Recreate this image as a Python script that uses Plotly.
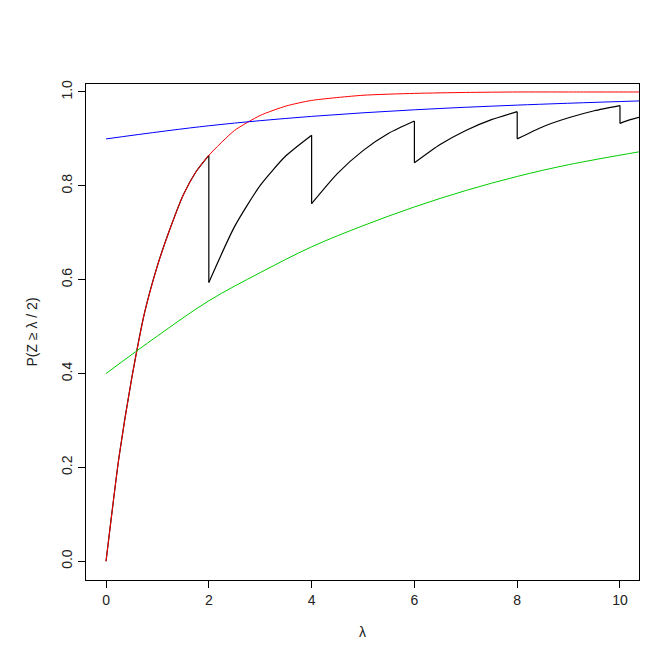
import plotly.graph_objects as go

# values
red_x = [0, 0.25, 0.5, 0.75, 1, 1.25, 1.5, 1.75, 2, 2.5, 3, 3.5, 4, 5, 6, 7, 8, 9, 10, 10.4]
red_y = [0, 0.22, 0.39, 0.53, 0.63, 0.71, 0.78, 0.83, 0.865, 0.918, 0.95, 0.97, 0.982, 0.993, 0.997, 0.999, 1.0, 1.0, 1.0, 1.0]

# black curve, one piece per interval between jumps
black_pieces = [
    ([0, 0.25, 0.5, 0.75, 1, 1.25, 1.5, 1.75, 2], [0, 0.22, 0.39, 0.53, 0.63, 0.71, 0.78, 0.83, 0.865]),
    ([2, 2.5, 3, 3.5, 4], [0.594, 0.713, 0.801, 0.864, 0.908]),
    ([4, 4.5, 5, 5.5, 6], [0.762, 0.826, 0.875, 0.912, 0.938]),
    ([6, 6.5, 7, 7.5, 8], [0.849, 0.888, 0.918, 0.941, 0.958]),
    ([8, 8.5, 9, 9.5, 10], [0.900, 0.926, 0.945, 0.960, 0.971]),
    ([10, 10.2, 10.4], [0.933, 0.941, 0.947]),
]

blue_x = [0, 2, 4, 6, 8, 10.4]
blue_y = [0.9, 0.928, 0.948, 0.962, 0.972, 0.981]

green_x = [0, 1, 2, 3, 4, 5, 6, 7, 8, 9, 10.4]
green_y = [0.40, 0.48, 0.555, 0.615, 0.67, 0.715, 0.755, 0.79, 0.82, 0.845, 0.873]

x_ticks = [0, 2, 4, 6, 8, 10]
y_ticks = [0.0, 0.2, 0.4, 0.6, 0.8, 1.0]

fig = go.Figure()

# each smooth piece on its own, then straight drops between them
for xs, ys in black_pieces:
    fig.add_trace(go.Scatter(x=xs, y=ys, mode='lines', line=dict(color='black', width=1.2, shape='spline', smoothing=0.6)))
for prev, nxt in zip(black_pieces[:-1], black_pieces[1:]):
    fig.add_trace(go.Scatter(x=[prev[0][-1], nxt[0][0]], y=[prev[1][-1], nxt[1][0]], mode='lines',
                             line=dict(color='black', width=1.2)))
fig.add_trace(go.Scatter(x=red_x, y=red_y, mode='lines', line=dict(color='#ff0000', width=1, shape='spline', smoothing=0.6)))
fig.add_trace(go.Scatter(x=blue_x, y=blue_y, mode='lines', line=dict(color='#0000ff', width=1, shape='spline')))
fig.add_trace(go.Scatter(x=green_x, y=green_y, mode='lines', line=dict(color='#00cd00', width=1, shape='spline')))

font = dict(family='Liberation Sans, Arial', size=14, color='#222')
axis_style = dict(showgrid=False, zeroline=False, showline=True, linecolor='black', linewidth=1,
                  mirror=True, ticks='outside', ticklen=7, tickcolor='black', automargin=False, tickfont=font)
fig.update_xaxes(range=[-0.39, 10.37], tickvals=x_ticks, ticktext=[str(v) for v in x_ticks],
                 title=dict(text='λ', font=font, standoff=20), **axis_style)
fig.update_yaxes(range=[-0.04, 1.017], tickvals=y_ticks, ticktext=[f'{v:.1f}' for v in y_ticks], tickangle=-90,
                 title=dict(text='P(Z ≥ λ / 2)', font=font, standoff=18), **axis_style)
fig.update_layout(width=672, height=671, showlegend=False, plot_bgcolor='white', paper_bgcolor='white',
                  margin=dict(l=78, r=41, t=76, b=99))

fig.write_html("out.html")
